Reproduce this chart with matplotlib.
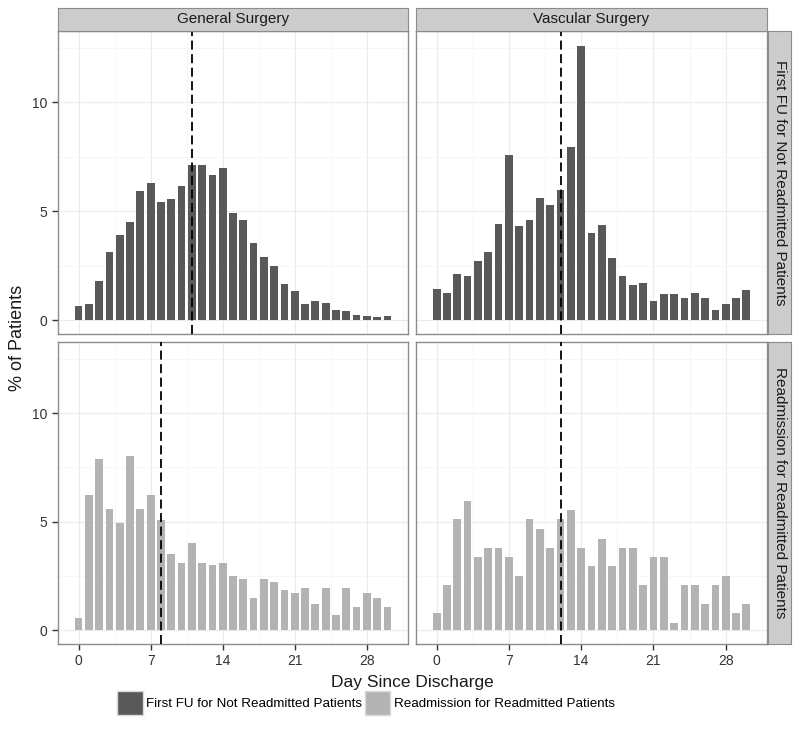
import numpy as np
import matplotlib.pyplot as plt
from matplotlib.patches import Patch

plt.rcParams['font.family'] = ['Liberation Sans', 'DejaVu Sans']

# Datos (% de pacientes por día desde el alta)
dias = np.arange(0, 31)
servicios = ["General Surgery", "Vascular Surgery"]
filas = ["First FU for Not Readmitted Patients", "Readmission for Readmitted Patients"]

gen_fu = [0.66, 0.76, 1.80, 3.15, 3.92, 4.52, 5.95, 6.31, 5.44, 5.57, 6.18,
          7.11, 7.11, 6.69, 6.98, 4.92, 4.60, 3.56, 2.90, 2.49, 1.66, 1.33,
          0.76, 0.89, 0.81, 0.49, 0.44, 0.26, 0.20, 0.14, 0.20]
vasc_fu = [1.45, 1.27, 2.14, 2.02, 2.72, 3.15, 4.43, 7.60, 4.31, 4.61, 5.60,
           5.27, 5.97, 7.97, 12.60, 4.02, 4.37, 2.87, 2.02, 1.63, 1.71, 0.90,
           1.21, 1.21, 1.01, 1.27, 1.01, 0.47, 0.73, 1.01, 1.39]
gen_readm = [0.55, 6.21, 7.87, 5.60, 4.95, 8.03, 5.60, 6.21, 5.06, 3.52, 3.12,
             4.02, 3.12, 3.00, 3.12, 2.49, 2.35, 1.47, 2.35, 2.23, 1.85, 1.73,
             1.97, 1.22, 1.97, 0.69, 1.97, 1.09, 1.73, 1.47, 1.09]
vasc_readm = [0.78, 2.09, 5.11, 5.96, 3.36, 3.79, 3.79, 3.36, 2.52, 5.11, 4.68,
              3.79, 5.11, 5.54, 3.79, 2.94, 4.22, 2.94, 3.79, 3.79, 2.09, 3.36,
              3.36, 0.34, 2.09, 2.09, 1.21, 2.09, 2.52, 0.78, 1.21]

# Mediana (línea discontinua) por panel
medianas = [[11, 12], [8, 12]]

datos = [[gen_fu, vasc_fu], [gen_readm, vasc_readm]]
colores = ["#595959", "#b3b3b3"]

fig = plt.figure(figsize=(8, 7.55), dpi=100)
W, H = 800, 755

def caja(x0, y0, x1, y1):
    # coordenadas en pixeles (origen arriba a la izquierda)
    return [x0 / W, 1 - y1 / H, (x1 - x0) / W, (y1 - y0) / H]

cols_x = [(58, 408), (416, 767)]
filas_y = [(31, 334), (342, 644)]
borde = "#8c8c8c"

for i in range(2):
    for j in range(2):
        ax = fig.add_axes(caja(cols_x[j][0], filas_y[i][0], cols_x[j][1], filas_y[i][1]))
        ax.bar(dias, datos[i][j], width=0.75, color=colores[i], zorder=2)
        ax.axvline(medianas[i][j], color="black", linestyle=(0, (5, 2.5)), linewidth=1.3, zorder=3)
        ax.set_xlim(-2, 32)
        ax.set_ylim(-0.63, 13.28)
        ax.set_xticks([0, 7, 14, 21, 28])
        ax.set_xticks([3.5, 10.5, 17.5, 24.5, 31.5], minor=True)
        ax.set_yticks([0, 5, 10])
        ax.set_yticks([2.5, 7.5, 12.5], minor=True)
        ax.grid(True, which="major", color="#ebebeb", linewidth=0.8, zorder=0)
        ax.grid(True, which="minor", color="#f5f5f5", linewidth=0.6, zorder=0)
        ax.set_axisbelow(True)
        for s in ax.spines.values():
            s.set_color(borde)
            s.set_linewidth(1.0)
        ax.tick_params(which="minor", length=0)
        ax.tick_params(which="major", color="#333333", length=4, width=1.0,
                       labelsize=10, labelcolor="#333333")
        if i == 0:
            ax.tick_params(axis="x", labelbottom=False, length=0)
        if j == 1:
            ax.tick_params(axis="y", labelleft=False, length=0)

# Tiras de encabezado (columnas)
for j in range(2):
    sax = fig.add_axes(caja(cols_x[j][0], 8, cols_x[j][1], 31))
    sax.set_facecolor("#cccccc")
    sax.set_xticks([])
    sax.set_yticks([])
    for s in sax.spines.values():
        s.set_color(borde)
    sax.text(0.5, 0.5, servicios[j], ha="center", va="center", fontsize=11, color="#1a1a1a")

# Tiras laterales (filas)
for i in range(2):
    sax = fig.add_axes(caja(768, filas_y[i][0], 791, filas_y[i][1]))
    sax.set_facecolor("#cccccc")
    sax.set_xticks([])
    sax.set_yticks([])
    for s in sax.spines.values():
        s.set_color(borde)
    sax.text(0.5, 0.5, filas[i], ha="center", va="center", rotation=-90, fontsize=11, color="#1a1a1a")

fig.text(412 / W, 1 - 682 / H, "Day Since Discharge", ha="center", va="center", fontsize=12.5, color="#1a1a1a")
fig.text(18 / W, 1 - 338 / H, "% of Patients", ha="center", va="center", rotation=90, fontsize=13, color="#1a1a1a")

manejadores = [Patch(facecolor=colores[0], edgecolor="#d9d9d9", label=filas[0]),
               Patch(facecolor=colores[1], edgecolor="#d9d9d9", label=filas[1])]
fig.legend(handles=manejadores, loc="center", bbox_to_anchor=(366 / W, 1 - 703 / H), ncol=2,
           frameon=False, fontsize=9.6, handlelength=1.9, handleheight=2.3, handletextpad=0.25,
           columnspacing=0.25, borderpad=0)

fig.savefig("out.png", dpi=100)
